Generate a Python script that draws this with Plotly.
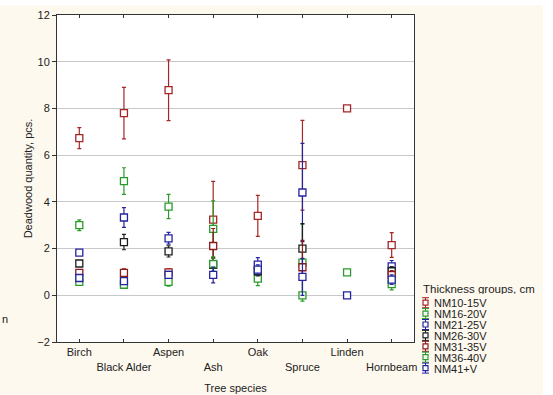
import plotly.graph_objects as go

# Tree species on the x axis
species = ["Birch", "Black Alder", "Aspen", "Ash", "Oak", "Spruce", "Linden", "Hornbeam"]

# Thickness groups (one series each)
groups = ["NM10-15V", "NM16-20V", "NM21-25V", "NM26-30V", "NM31-35V", "NM36-40V", "NM41+V"]
group_colors = ["#a52626", "#2a9a2a", "#2424a0", "#1e1e1e", "#8e1a1a", "#2a9a2a", "#2424a0"]

# Mean deadwood quantity per species, for each thickness group
nm10_15 = [6.73, 7.80, 8.78, 3.24, 3.40, 5.57, 8.00, 2.15]
nm16_20 = [3.00, 4.89, 3.80, 2.84, 0.71, 1.40, 0.98, 0.48]
nm21_25 = [1.83, 3.33, 2.44, None, 1.31, 4.40, 0.00, 1.24]
nm26_30 = [1.36, 2.28, 1.88, 1.30, 1.03, 2.00, None, 1.03]
nm31_35 = [0.96, 0.96, 0.98, 2.11, None, 1.20, None, 0.86]
nm36_40 = [0.57, 0.45, 0.57, 1.34, None, 0.00, None, None]
nm41 = [0.74, 0.61, 0.87, 0.87, 1.10, 0.79, None, 0.67]

# Half-widths of the error bars
err10_15 = [0.45, 1.10, 1.30, 1.64, 0.88, 1.92, 0.0, 0.53]
err16_20 = [0.23, 0.57, 0.52, 1.20, 0.30, 1.65, 0.0, 0.25]
err21_25 = [0.10, 0.42, 0.25, None, 0.30, 2.10, 0.0, 0.25]
err26_30 = [0.10, 0.33, 0.24, 0.30, 0.20, 1.07, None, 0.20]
err31_35 = [0.10, 0.17, 0.15, 0.75, None, 1.15, None, 0.20]
err36_40 = [0.08, 0.10, 0.18, 0.30, None, 0.00, None, None]
err41 = [0.10, 0.12, 0.15, 0.34, 0.20, 0.79, None, 0.20]

means = [nm10_15, nm16_20, nm21_25, nm26_30, nm31_35, nm36_40, nm41]
errors = [err10_15, err16_20, err21_25, err26_30, err31_35, err36_40, err41]

y_ticks = [-2, 0, 2, 4, 6, 8, 10, 12]

# Page geometry (pixels)
W, H = 553, 395
L, R, T, B = 57, 414, 15, 342
FONT = "Liberation Sans, Arial, sans-serif"
CREAM = "#fef9ee"


def px(xp):
    return (xp - L) / (R - L)


def py(yp):
    return (B - yp) / (B - T)


fig = go.Figure()
xs = list(range(len(species)))
for name, col, ys, es in zip(groups, group_colors, means, errors):
    fig.add_trace(go.Scatter(
        x=xs, y=ys, name=name, mode="markers",
        marker=dict(symbol="square", size=7, color="white",
                    line=dict(color=col, width=1.3)),
        error_y=dict(type="data", array=es, visible=True, color=col,
                     thickness=1.2, width=2),
        showlegend=False,
    ))

# staggered category labels
ticktext = [s if i % 2 == 0 else "<br>" + s for i, s in enumerate(species)]

shapes = [
    dict(type="rect", xref="paper", yref="paper", x0=px(0), x1=px(543),
         y0=py(395), y1=py(5), fillcolor=CREAM, line=dict(width=0), layer="below"),
    dict(type="rect", xref="paper", yref="paper", x0=0, x1=1, y0=0, y1=1,
         fillcolor="white", line=dict(width=0), layer="below"),
]
annotations = []

# legend block
annotations.append(dict(text="Thickness groups, cm", xref="paper", yref="paper",
                        x=px(421), y=py(289), xanchor="left", yanchor="middle",
                        height=10, showarrow=False,
                        font=dict(family=FONT, size=11.5, color="#222")))
for i, (name, col) in enumerate(zip(groups, group_colors)):
    yc = 302.7 + i * 10.9
    cx = 425.5
    shapes += [
        dict(type="line", xref="paper", yref="paper", x0=px(cx), x1=px(cx),
             y0=py(yc - 5), y1=py(yc + 5), line=dict(color=col, width=1)),
        dict(type="line", xref="paper", yref="paper", x0=px(cx - 3.5), x1=px(cx + 3.5),
             y0=py(yc - 5), y1=py(yc - 5), line=dict(color=col, width=1)),
        dict(type="line", xref="paper", yref="paper", x0=px(cx - 3.5), x1=px(cx + 3.5),
             y0=py(yc + 5), y1=py(yc + 5), line=dict(color=col, width=1)),
        dict(type="rect", xref="paper", yref="paper", x0=px(cx - 2.5), x1=px(cx + 2.5),
             y0=py(yc + 2.5), y1=py(yc - 2.5), fillcolor="white",
             line=dict(color=col, width=1.2)),
    ]
    annotations.append(dict(text=name, xref="paper", yref="paper",
                            x=px(432), y=py(yc), xanchor="left", yanchor="middle",
                            height=9, showarrow=False,
                            font=dict(family=FONT, size=11, color="#222")))

annotations.append(dict(text="n", xref="paper", yref="paper", x=px(0), y=py(319),
                        xanchor="left", yanchor="middle", showarrow=False,
                        font=dict(family=FONT, size=11, color="#222")))

fig.update_layout(
    width=W, height=H,
    margin=dict(l=L, r=W - R, t=T, b=H - B),
    paper_bgcolor="white", plot_bgcolor="white",
    font=dict(family=FONT, size=11, color="#222"),
    shapes=shapes, annotations=annotations,
    xaxis=dict(
        range=[-0.5, len(species) - 0.5], tickvals=xs, ticktext=ticktext,
        tickangle=0, automargin=False,
        ticks="inside", ticklen=3, tickcolor="#333", showline=True, linecolor="#333",
        linewidth=1, mirror="ticks", showgrid=False, zeroline=False,
        title=dict(text="Tree species", standoff=12, font=dict(size=11)),
        tickfont=dict(size=11),
    ),
    yaxis=dict(
        range=[-2, 12], tickvals=y_ticks, ticks="outside", ticklen=4, tickcolor="#333",
        automargin=False,
        showline=True, linecolor="#333", linewidth=1, mirror=True,
        showgrid=True, gridcolor="#c8c8c8", gridwidth=1,
        zeroline=True, zerolinecolor="#c8c8c8", zerolinewidth=1,
        title=dict(text="Deadwood quantity, pcs.", standoff=2, font=dict(size=11)),
        tickfont=dict(size=11),
    ),
    yaxis2=dict(
        range=[-2, 12], tickvals=y_ticks, overlaying="y", side="right",
        ticks="inside", ticklen=3, tickcolor="#333", showticklabels=False,
        showgrid=False, zeroline=False, showline=False,
    ),
)

fig.write_html("out.html")
